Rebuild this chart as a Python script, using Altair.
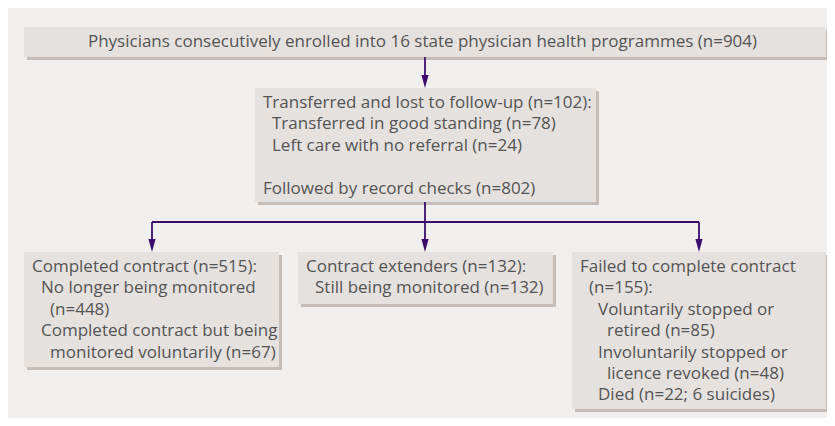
import altair as alt
import pandas as pd

# ---- content -------------------------------------------------------------
top_label = ["Physicians consecutively enrolled into 16 state physician health programmes (n=904)"]
lost_labels = [
    "Transferred and lost to follow-up (n=102):",
    "Transferred in good standing (n=78)",
    "Left care with no referral (n=24)",
    "",
    "Followed by record checks (n=802)",
]
completed_labels = [
    "Completed contract (n=515):",
    "No longer being monitored",
    "(n=448)",
    "Completed contract but being",
    "monitored voluntarily (n=67)",
]
extender_labels = [
    "Contract extenders (n=132):",
    "Still being monitored (n=132)",
]
failed_labels = [
    "Failed to complete contract",
    "(n=155):",
    "Voluntarily stopped or",
    "retired (n=85)",
    "Involuntarily stopped or",
    "licence revoked (n=48)",
    "Died (n=22; 6 suicides)",
]

# ---- layout (page pixel coordinates) -------------------------------------
M = 8
W, H = 835 - M, 426 - M     # drawable right / bottom page coordinate
boxes = {
    "top": (24, 826, 27, 57),
    "lost": (255, 596, 88, 202),
    "completed": (24, 279, 252, 367),
    "extender": (298, 553, 252, 304),
    "failed": (572, 826, 252, 409),
}
indent_lost = [0, 1, 1, 0, 0]
indent_completed = [0, 1, 2, 1, 2]
indent_extender = [0, 1]
indent_failed = [0, 1, 2, 3, 2, 3, 2]
INDENT = 9
LINE = 21.4
PAD_X = 8
FIRST_Y = 15

PANEL = "#f0efed"
BOX = "#e5e1de"
SHADOW = "#c4bdb8"
TEXT = "#545454"
ARROW = "#3b0c6c"
FONT = "Open Sans"
FS = 17

xs = alt.Scale(domain=[M, W], nice=False, zero=False)
ys = alt.Scale(domain=[M, H], nice=False, zero=False, reverse=True)


def enc(ch, two=True):
    e = dict(x=alt.X("x:Q", scale=xs, axis=None), y=alt.Y("y:Q", scale=ys, axis=None))
    if two:
        e.update(x2="x2:Q", y2="y2:Q")
    return ch.encode(**e)


# panel
panel_df = pd.DataFrame([{"x": M, "x2": W, "y": M, "y2": H}])
panel = enc(alt.Chart(panel_df).mark_rect(color=PANEL))

box_df = pd.DataFrame([{"x": a, "x2": b, "y": c, "y2": d} for a, b, c, d in boxes.values()])
shadow_df = box_df.copy()
shadow_df[["x", "x2"]] = (shadow_df[["x", "x2"]] + 3).clip(upper=W)
shadow_df[["y", "y2"]] += 3

shadow = enc(alt.Chart(shadow_df).mark_rect(color=SHADOW))
rects = enc(alt.Chart(box_df).mark_rect(color=BOX))

# connectors
cx = 425
top_b = boxes["top"]
lost_b = boxes["lost"]
split_y = 222
targets = [152, 425, 699]
HEAD = 13
seg = [
    {"x": cx, "x2": cx, "y": top_b[3], "y2": lost_b[2] - HEAD + 2},
    {"x": cx, "x2": cx, "y": lost_b[3], "y2": split_y},
    {"x": targets[0], "x2": targets[-1], "y": split_y, "y2": split_y},
]
for t in targets:
    seg.append({"x": t, "x2": t, "y": split_y, "y2": boxes["completed"][2] - HEAD + 2})
seg_df = pd.DataFrame(seg)
rules = enc(alt.Chart(seg_df).mark_rule(color=ARROW, strokeWidth=1.8))

heads = [{"x": cx, "y": lost_b[2] - HEAD / 2}] + [
    {"x": t, "y": boxes["completed"][2] - HEAD / 2} for t in targets]
head_df = pd.DataFrame(heads)
arrowheads = enc(alt.Chart(head_df).mark_point(
    shape="M-0.55,-1 L0.55,-1 L0,1 Z", size=HEAD * HEAD, filled=True,
    color=ARROW, opacity=1, strokeWidth=0), two=False)

# texts
trows = []
for key, labels, ind in [
    ("lost", lost_labels, indent_lost),
    ("completed", completed_labels, indent_completed),
    ("extender", extender_labels, indent_extender),
    ("failed", failed_labels, indent_failed),
]:
    x0, x1, y0, y1 = boxes[key]
    for i, (lab, lv) in enumerate(zip(labels, ind)):
        if lab:
            trows.append({"x": x0 + PAD_X + lv * INDENT,
                          "y": y0 + FIRST_Y + i * LINE, "t": lab})
left_df = pd.DataFrame(trows)
center_df = pd.DataFrame([{"x": 422.5, "y": (top_b[2] + top_b[3]) / 2, "t": top_label[0]}])

left_text = enc(alt.Chart(left_df).mark_text(
    align="left", baseline="middle", font=FONT, fontSize=FS, color=TEXT), two=False).encode(text="t:N")
center_text = enc(alt.Chart(center_df).mark_text(
    align="center", baseline="middle", font=FONT, fontSize=FS, color=TEXT), two=False).encode(text="t:N")

chart = alt.layer(panel, shadow, rects, rules, arrowheads, left_text, center_text).properties(
    width=W - M, height=H - M, padding=0,
    autosize=alt.AutoSizeParams(type="none"),
).configure_view(stroke=None).configure(background="white")

chart.save("out.html", embed_options={"renderer": "svg", "actions": False})
